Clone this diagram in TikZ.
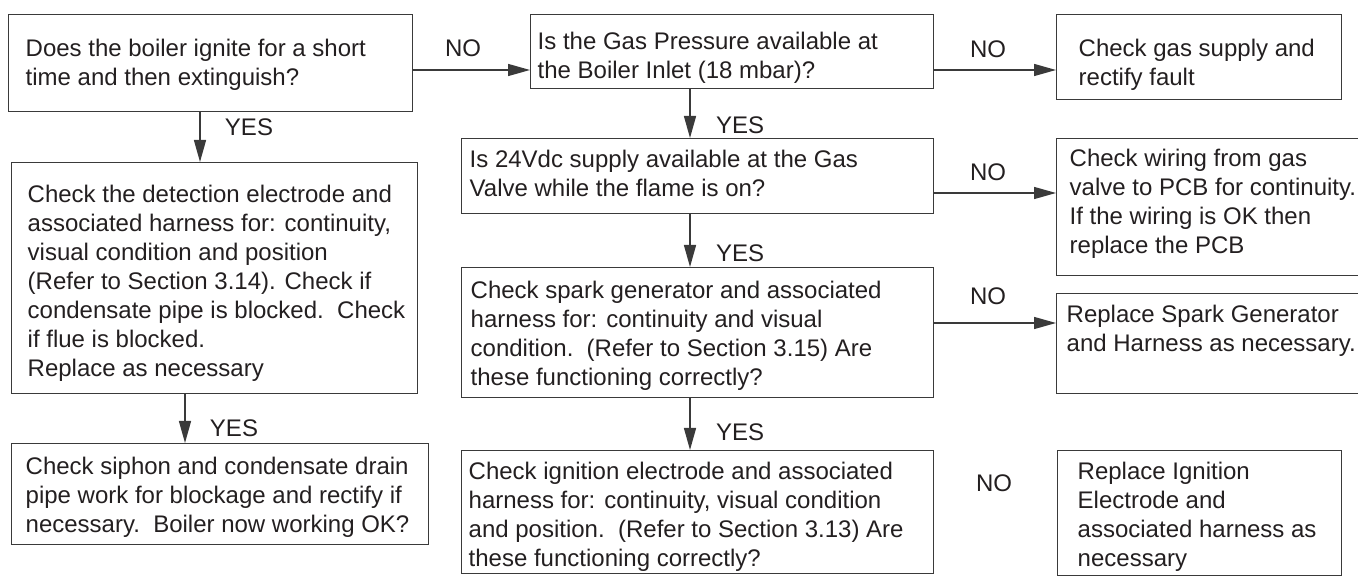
\documentclass[tikz,border=0pt]{standalone}
\usepackage{fontspec}
\setmainfont{Liberation Sans}
\usetikzlibrary{arrows.meta}
\definecolor{inkgray}{HTML}{231F20}
\definecolor{linegray}{HTML}{3A3A3A}
\newlength{\pxu}\setlength{\pxu}{0.5pt}
% box contents: width, height, left pad, first baseline, text
\newcommand{\chartbox}[5]{%
  \begin{minipage}[t][#2\pxu][t]{#1\pxu}%
  \fontsize{12pt}{14.5pt}\selectfont\raggedright\leftskip=#3\pxu\relax
  \rule{0pt}{#4\pxu}#5%
  \end{minipage}}

\begin{document}
\begin{tikzpicture}[x=0.5pt,y=-0.5pt,
  chart/.style={draw=linegray,line width=0.7pt,inner sep=0pt,anchor=north west,text=inkgray},
  lbl/.style={font=\fontsize{12pt}{14pt}\selectfont,text=inkgray,inner sep=0pt},
  arr/.style={-{Triangle[length=11pt,width=6pt]},line width=0.7pt,draw=linegray}]
\useasboundingbox (0,0) rectangle (1358,576);
% left column
\node[chart] (ask) at (8,14) {\chartbox{404}{97}{17}{42}{Does the boiler ignite for a short\\time and then extinguish?}};
\node[chart] (detect) at (11,162) {\chartbox{406}{231}{16}{40}{Check the detection electrode and\\associated harness for: continuity,\\visual condition and position\\(Refer to Section 3.14). Check if\\condensate pipe is blocked.\ \ Check\\if flue is blocked.\\Replace as necessary}};
\node[chart] (siphon) at (11,443) {\chartbox{417}{101}{14}{31}{Check siphon and condensate drain\\pipe work for blockage and rectify if\\necessary.\ \ Boiler now working OK?}};
% middle column
\node[chart] (gas) at (530,14) {\chartbox{403}{74}{7}{35}{Is the Gas Pressure available at\\the Boiler Inlet (18 mbar)?}};
\node[chart] (vdc) at (461,138) {\chartbox{472}{75}{8}{29}{Is 24Vdc supply available at the Gas\\Valve while the flame is on?}};
\node[chart] (spark) at (461,267) {\chartbox{472}{130}{9}{31}{Check spark generator and associated\\harness for: continuity and visual\\condition.\ \ (Refer to Section 3.15) Are\\these functioning correctly?}};
\node[chart] (ignit) at (461,450) {\chartbox{472}{123}{7}{29}{Check ignition electrode and associated\\harness for: continuity, visual condition\\and position.\ \ (Refer to Section 3.13) Are\\these functioning correctly?}};
% right column
\node[chart] (supply) at (1056,14) {\chartbox{285}{85}{22}{42}{Check gas supply and\\rectify fault}};
\node[chart] (wiring) at (1056,138) {\chartbox{310}{137}{13}{28}{Check wiring from gas\\valve to PCB for continuity.\\If the wiring is OK then\\replace the PCB}};
\node[chart] (newspark) at (1056,293) {\chartbox{310}{100}{10}{29}{Replace Spark Generator\\and Harness as necessary.}};
\node[chart] (newign) at (1057,450) {\chartbox{284}{125}{20}{29}{Replace Ignition\\Electrode and\\associated harness as\\necessary}};
% connector rows and columns
\coordinate (rowgas) at (0,70);
\coordinate (rowvdc) at (0,193);
\coordinate (rowspark) at (0,323);
\coordinate (colask) at (200,0);
\coordinate (coldet) at (185,0);
\coordinate (colmid) at (690,0);
% NO branches
\draw[arr] (ask.east |- rowgas) -- (gas.west |- rowgas);
\node[lbl] (noask) at (463,48) {NO};
\draw[arr] (gas.east |- rowgas) -- (supply.west |- rowgas);
\node[lbl] (nogas) at (988,49) {NO};
\draw[arr] (vdc.east |- rowvdc) -- (wiring.west |- rowvdc);
\node[lbl] (novdc) at (988,172) {NO};
\draw[arr] (spark.east |- rowspark) -- (newspark.west |- rowspark);
\node[lbl] (nospark) at (988,296) {NO};
\node[lbl] (noign) at (994,483) {NO};
% YES branches
\draw[arr] (ask.south -| colask) -- (detect.north -| colask);
\node[lbl] (yesask) at (249,127) {YES};
\draw[arr] (detect.south -| coldet) -- (siphon.north -| coldet);
\node[lbl] (yesdet) at (234,428) {YES};
\draw[arr] (gas.south -| colmid) -- (vdc.north -| colmid);
\node[lbl] (yesgas) at (740,125) {YES};
\draw[arr] (vdc.south -| colmid) -- (spark.north -| colmid);
\node[lbl] (yesvdc) at (740,253) {YES};
\draw[arr] (spark.south -| colmid) -- (ignit.north -| colmid);
\node[lbl] (yesspark) at (740,432) {YES};
\end{tikzpicture}
\end{document}
